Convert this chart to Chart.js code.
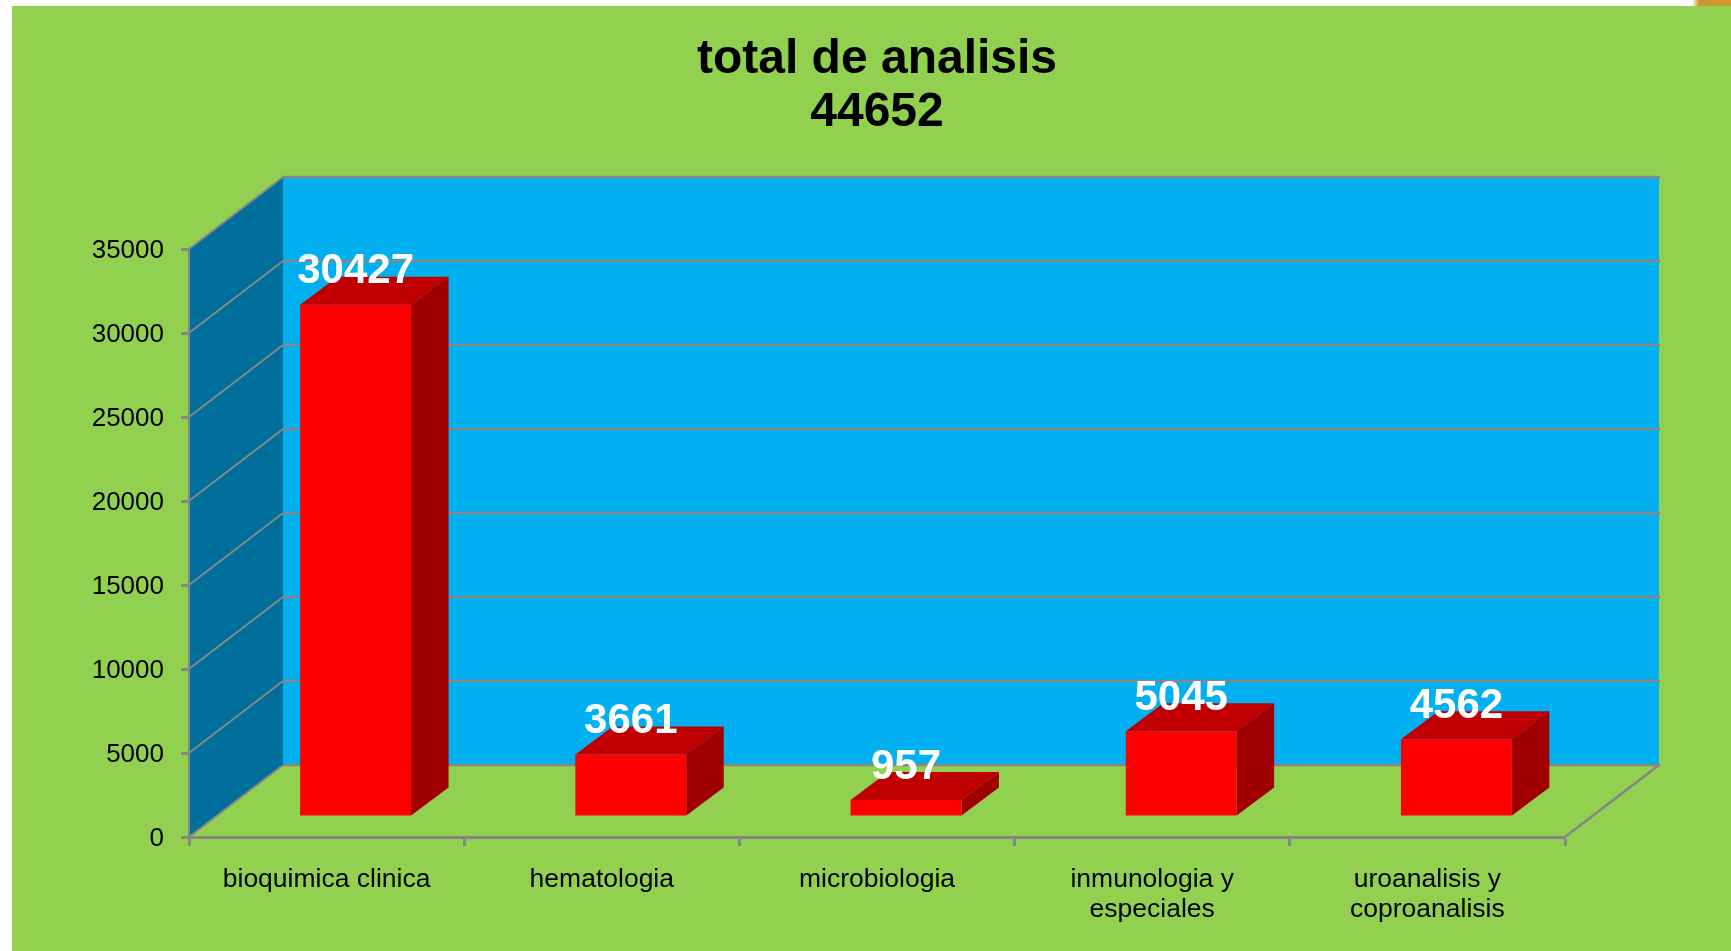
<!DOCTYPE html>
<html>
<head>
<meta charset="utf-8">
<title>total de analisis</title>
<script src="https://cdn.jsdelivr.net/npm/chart.js@4"></script>
<style>
    html, body { margin: 0; padding: 0; background: #fff; overflow: hidden; }
    #wrap { position: relative; width: 1731px; height: 951px; }
    #corner { position: absolute; right: 0; top: 0; width: 39px; height: 6px;
        background: linear-gradient(to right, #fff 0%, #c8962e 18%, #d09a30 100%); }
    canvas { display: block; }
</style>
</head>
<body>
<div id="wrap">
    <canvas id="chart" width="1731" height="951"></canvas>
    <div id="corner"></div>
</div>
<script>
const titleLines = ['total de analisis', '44652'];
const categories = ['bioquimica clinica', 'hematologia', 'microbiologia', ['inmunologia y', 'especiales'], ['uroanalisis y', 'coproanalisis']];
const values = [30427, 3661, 957, 5045, 4562];
const axisMin = 0;
const axisMax = 35000;
const axisStep = 5000;

const grey = '#868686';
// the 3d box: how far the back wall sits from the front axes
const wallDx = 94, wallDy = -72;
// the bars stand in the middle of the floor
const barDx = 29, barDy = -21;
// depth of one bar
const depthDx = 37.5, depthDy = -28;

function poly(ctx, pts, fill) {
    ctx.beginPath();
    pts.forEach((p, i) => i ? ctx.lineTo(p[0], p[1]) : ctx.moveTo(p[0], p[1]));
    ctx.closePath();
    ctx.fillStyle = fill;
    ctx.fill();
}

function line(ctx, pts, lw) {
    ctx.beginPath();
    pts.forEach((p, i) => i ? ctx.lineTo(p[0], p[1]) : ctx.moveTo(p[0], p[1]));
    ctx.strokeStyle = grey;
    ctx.lineWidth = lw;
    ctx.stroke();
}

const box3d = {
    id: 'box3d',
    beforeDraw(chart) {
        const ctx = chart.ctx, a = chart.chartArea, y = chart.scales.y;
        const bx = a.left + wallDx, rx = a.right + wallDx;
        ctx.save();
        // panel
        ctx.fillStyle = '#92d050';
        ctx.fillRect(12, 6, chart.width - 12, chart.height - 6);
        // walls
        poly(ctx, [[bx, a.top + wallDy], [rx, a.top + wallDy], [rx, a.bottom + wallDy], [bx, a.bottom + wallDy]], '#00b0f0');
        poly(ctx, [[a.left, a.top], [bx, a.top + wallDy], [bx, a.bottom + wallDy], [a.left, a.bottom]], '#006f9b');
        // gridlines run along both walls
        y.ticks.forEach(t => {
            const py = y.getPixelForValue(t.value);
            line(ctx, [[a.left, py], [bx, py + wallDy]], 2);
            line(ctx, [[bx, py + wallDy], [rx + 1, py + wallDy]], 2.5);
        });
        // right edge of the floor
        line(ctx, [[a.right, a.bottom], [rx, a.bottom + wallDy]], 2.5);
        ctx.restore();
    },
    beforeDatasetsDraw(chart) {
        const ctx = chart.ctx;
        ctx.save();
        ctx.translate(barDx, barDy);
        chart.getDatasetMeta(0).data.forEach(bar => {
            const x0 = bar.x - bar.width / 2, x1 = bar.x + bar.width / 2;
            poly(ctx, [[x1, bar.y], [x1 + depthDx, bar.y + depthDy], [x1 + depthDx, bar.base + depthDy], [x1, bar.base]], '#a00000');
            poly(ctx, [[x0, bar.y], [x0 + depthDx, bar.y + depthDy], [x1 + depthDx, bar.y + depthDy], [x1, bar.y]], '#c00000');
        });
        ctx.restore();
        // left open, closed again after the bars are drawn
        ctx.save();
        ctx.translate(barDx, barDy);
    },
    afterDatasetsDraw(chart) {
        const ctx = chart.ctx;
        ctx.restore();
        ctx.save();
        ctx.translate(barDx, barDy);
        ctx.font = 'bold 42px "Liberation Sans", Arial, sans-serif';
        ctx.fillStyle = '#fff';
        ctx.textAlign = 'center';
        ctx.textBaseline = 'middle';
        chart.getDatasetMeta(0).data.forEach((bar, i) => {
            ctx.fillText(String(values[i]), bar.x, bar.y - 33);
        });
        ctx.restore();
    }
};

new Chart(document.getElementById('chart'), {
    type: 'bar',
    data: {
        labels: categories,
        datasets: [{
            data: values,
            backgroundColor: '#ff0000',
            borderWidth: 0,
            categoryPercentage: 1,
            barPercentage: 0.403
        }]
    },
    plugins: [box3d],
    options: {
        responsive: false,
        animation: false,
        events: [],
        layout: { padding: { left: 89, right: 166, top: 0, bottom: 0 } },
        plugins: {
            legend: { display: false },
            tooltip: { enabled: false },
            title: {
                display: true,
                text: titleLines,
                color: '#000',
                fullSize: false,
                font: { family: '"Liberation Sans", Arial, sans-serif', size: 48, weight: 'bold', lineHeight: '53px' },
                padding: { top: 33, bottom: 110 }
            }
        },
        scales: {
            x: {
                afterFit(s) { s.height = 114; },
                offset: true,
                border: { color: grey, width: 3 },
                grid: { drawOnChartArea: false, color: grey, tickLength: 9, tickWidth: 3, offset: true },
                ticks: {
                    color: '#000',
                    maxRotation: 0,
                    autoSkip: false,
                    padding: 18,
                    font: { family: '"Liberation Sans", Arial, sans-serif', size: 26.5, lineHeight: 1.15 }
                }
            },
            y: {
                afterFit(s) { s.width = 100; },
                min: axisMin,
                max: axisMax,
                border: { color: grey, width: 2 },
                grid: { drawOnChartArea: false, color: grey, tickLength: 8, tickWidth: 3 },
                ticks: {
                    stepSize: axisStep,
                    color: '#000',
                    padding: 17,
                    labelOffset: 2,
                    callback: v => String(v),
                    font: { family: '"Liberation Sans", Arial, sans-serif', size: 26 }
                }
            }
        }
    }
});
</script>
</body>
</html>
